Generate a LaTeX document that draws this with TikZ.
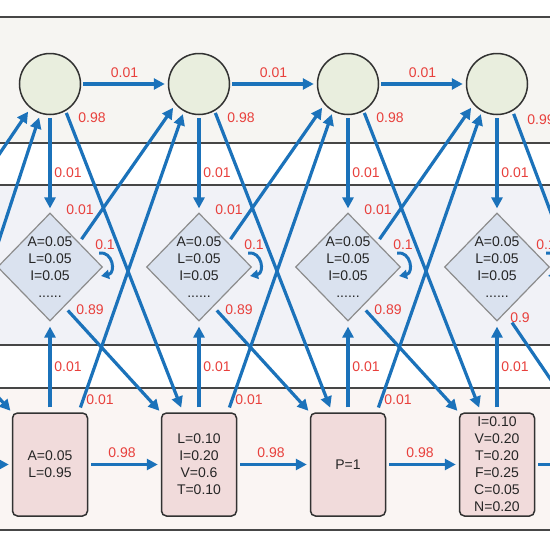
\documentclass[tikz,border=0pt]{standalone}
\usepackage{fontspec}
\setmainfont{Liberation Sans}
\usetikzlibrary{shapes.geometric,arrows.meta,calc}
\definecolor{ablue}{RGB}{27,114,186}
\definecolor{lred}{RGB}{232,64,60}
\definecolor{cfill}{RGB}{233,238,222}
\definecolor{dfill}{RGB}{218,226,239}
\definecolor{rfill}{RGB}{241,219,219}
\definecolor{bandA}{RGB}{246,245,242}
\definecolor{bandB}{RGB}{241,242,247}
\definecolor{bandC}{RGB}{250,245,243}
\definecolor{bline}{RGB}{70,70,70}
\definecolor{dbord}{RGB}{140,140,140}
\definecolor{nbord}{RGB}{50,50,50}
\begin{document}
\begin{tikzpicture}[x=1pt,y=-1pt,
  arr/.style={draw=ablue, line width=3.2pt, -{Triangle[length=11pt,width=11pt]}},
  looparr/.style={draw=ablue, line width=3pt, -{Triangle[length=8pt,width=9pt]}},
  circ/.style={circle, draw=nbord, fill=cfill, line width=1.5pt, minimum size=61pt, inner sep=0pt},
  dia/.style={diamond, draw=dbord, fill=dfill, line width=1.2pt, minimum width=105pt, minimum height=108pt, inner sep=0pt},
  dtext/.style={align=center, font=\fontsize{14}{17}\selectfont, text=black!85, inner sep=0pt},
  rbox/.style={rectangle, rounded corners=5pt, draw=nbord, fill=rfill, line width=1.5pt, minimum width=75pt, minimum height=103pt, inner xsep=2pt, inner ysep=0pt, align=center, font=\fontsize{14}{17}\selectfont, text=black!85},
  lab/.style={text=lred, font=\fontsize{14}{16}\selectfont, inner sep=0pt},
  bandline/.style={draw=bline, line width=1.8pt}
]
\useasboundingbox (0,0) rectangle (550,549);
\clip (0,0) rectangle (550,549);
\fill[white] (0,0) rectangle (550,549);
% bands
\fill[bandA] (-5,17) rectangle (555,143);
\fill[bandB] (-5,185) rectangle (555,345);
\fill[bandC] (-5,388) rectangle (555,530);
\draw[bandline] (-5,17) -- (555,17) (-5,143) -- (555,143);
\draw[bandline] (-5,185) -- (555,185) (-5,345) -- (555,345);
\draw[bandline] (-5,388) -- (555,388) (-5,530) -- (555,530);

% nodes
\foreach \i/\X in {1/50,2/199,3/348,4/497} {
  \node[circ] (c\i) at (\X,84) {};
  \node[dia] (d\i) at (\X,267) {};
  \node[dtext] (t\i) at (\X,267.5) {A=0.05\\L=0.05\\I=0.05\\......};
}
\node[rbox] (r1) at (50,464.5) {A=0.05\\L=0.95};
\node[rbox] (r2) at (199,464.5) {L=0.10\\I=0.20\\V=0.6\\T=0.10};
\node[rbox] (r3) at (348,464.5) {P=1};
\node[rbox] (r4) at (497,464.5) {I=0.10\\V=0.20\\T=0.20\\F=0.25\\C=0.05\\N=0.20};

% within-column connectors
\foreach \i/\X in {1/50,2/199,3/348,4/497} {
  \draw[arr, shorten <=3pt, shorten >=4pt] (c\i.south) -- (d\i.north);
  \draw[arr, shorten <=5pt, shorten >=5pt] (r\i.north) -- (d\i.south);
  \draw[looparr] ($(d\i.east)+(-4,-14)$) .. controls ($(d\i.east)+(10,-16)$) and ($(d\i.east)+(13,6)$) .. ($(d\i.east)+(-2,9)$);
  \node[lab] (lv\i) at (\X+18,173) {0.01};
  \node[lab] (lr\i) at (\X+18,367) {0.01};
}
\foreach \i in {1,2,3} {
  \node[lab] (ll\i) at ($(d\i.center)+(55,-22)$) {0.1};
}
\node[lab] (ll4) at (546,245) {0.1};

% between-column connectors
\foreach \i/\j/\X in {1/2/50,2/3/199,3/4/348} {
  \draw[arr, shorten <=2pt, shorten >=3pt] (c\i.east) -- (c\j.west);
  \draw[arr, shorten <=3pt, shorten >=3pt] (r\i.east) -- (r\j.west);
  \draw[arr, shorten <=2pt, shorten >=5pt] (c\i.-60) -- ($(r\j.north)+(-16,0)$);
  \draw[arr, shorten <=4pt, shorten >=4pt] (d\i.40) -- (c\j.221);
  \draw[arr, shorten <=5pt, shorten >=2pt] (d\i.-70) -- (r\j.north west);
  \draw[arr, shorten <=5pt, shorten >=3pt] ($(r\i.north east)+(-9.5,0)$) -- (c\j.241);
  \node[lab] (lc\i) at (\X+74.5,73) {0.01};
  \node[lab] (lx\i) at (\X+42,118) {0.98};
  \node[lab] (ly\i) at (\X+30,210) {0.01};
  \node[lab] (lz\i) at (\X+40,310) {0.89};
  \node[lab] (lw\i) at (\X+50,400) {0.01};
  \node[lab] (lh\i) at (\X+72,453) {0.98};
}

% left edge (from previous column, outside the picture)
\coordinate (inA) at (-40,212);
\coordinate (inB) at (-30,329);
\coordinate (inC) at (-60,332);
\coordinate (inD) at (-20,464.5);
\draw[arr, shorten >=4pt] (inA) -- (c1.231);
\draw[arr, shorten >=4pt] (inB) -- (c1.252);
\draw[arr, shorten >=2pt] (inC) -- (r1.north west);
\draw[arr, shorten >=3pt] (inD) -- (r1.west);

% right edge (to next column, outside the picture)
\coordinate (outA) at (600,343);
\coordinate (outB) at (600,452);
\coordinate (outC) at (600,464.5);
\coordinate (st4) at ($(d4.south)+(15,1)$);
\draw[arr, shorten <=3pt] (c4.-60) -- (outA);
\draw[arr] (st4) -- (outB);
\draw[arr, shorten <=3pt] (r4.east) -- (outC);
\node[lab] (lx4) at (541,120) {0.99};
\node[lab] (lz4) at (520,318) {0.9};
\end{tikzpicture}
\end{document}
